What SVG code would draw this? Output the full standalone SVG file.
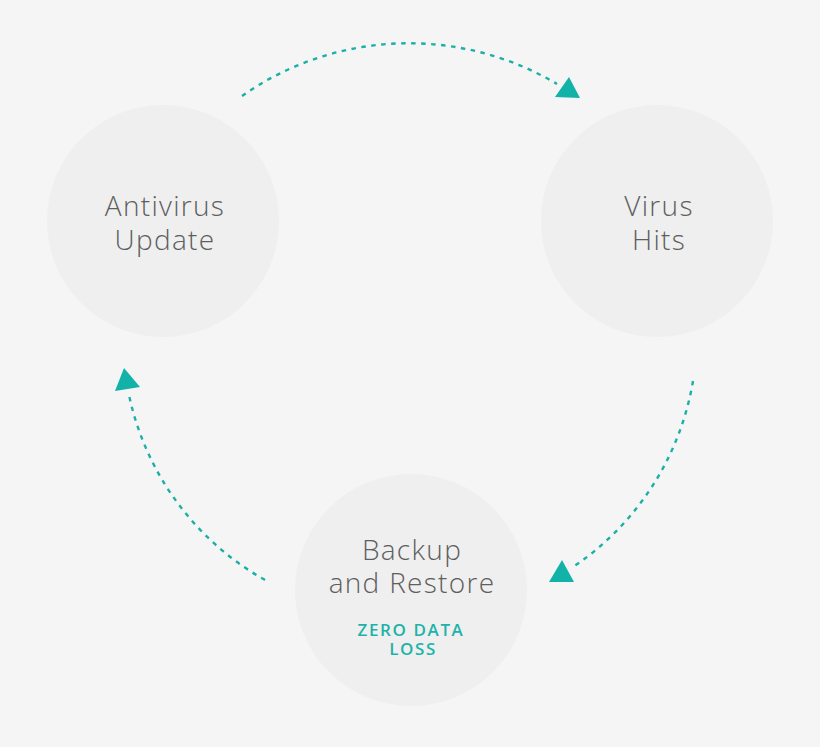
<svg xmlns="http://www.w3.org/2000/svg" width="820" height="747" viewBox="0 0 820 747">
<style>
.node{fill:#efefef}
.lbl{font-family:"Open Sans",Lato,"Liberation Sans",sans-serif;font-weight:300;font-size:28px;fill:#5e5e5e;text-anchor:middle;letter-spacing:1.3px}
.sub{font-family:"Open Sans",Lato,"Liberation Sans",sans-serif;font-weight:600;font-size:17px;fill:#1db3ab;text-anchor:middle;letter-spacing:1.6px}
.arc{fill:none;stroke:#1aafa7;stroke-width:2.4;stroke-dasharray:4.5 5.5}
.head{fill:#13b2a9}
</style>
<rect width="820" height="747" fill="#f5f5f5"/>
<g id="antivirus-update">
<circle class="node" cx="163" cy="221" r="116"/>
<text class="lbl" x="165" y="216">Antivirus</text>
<text class="lbl" x="165" y="250">Update</text>
</g>
<g id="virus-hits">
<circle class="node" cx="657" cy="221" r="116"/>
<text class="lbl" x="659" y="216">Virus</text>
<text class="lbl" x="659" y="250">Hits</text>
</g>
<g id="backup-restore">
<circle class="node" cx="411" cy="590" r="116"/>
<text class="lbl" x="412" y="560">Backup</text>
<text class="lbl" x="412" y="593">and Restore</text>
<text class="sub" x="411" y="636">ZERO DATA</text>
<text class="sub" x="413" y="655">LOSS</text>
</g>
<g id="connectors">
<path class="arc" d="M242,96 A290,290 0 0 1 557,84"/>
<polygon class="head" points="569,77 555,97 580,98"/>
<path class="arc" d="M693,381 A280,280 0 0 1 573,567"/>
<polygon class="head" points="562,560 549,582 574,582"/>
<path class="arc" d="M265,580 A278,278 0 0 1 129,395"/>
<polygon class="head" points="124,368 115,391 140,387"/>
</g>
</svg>
